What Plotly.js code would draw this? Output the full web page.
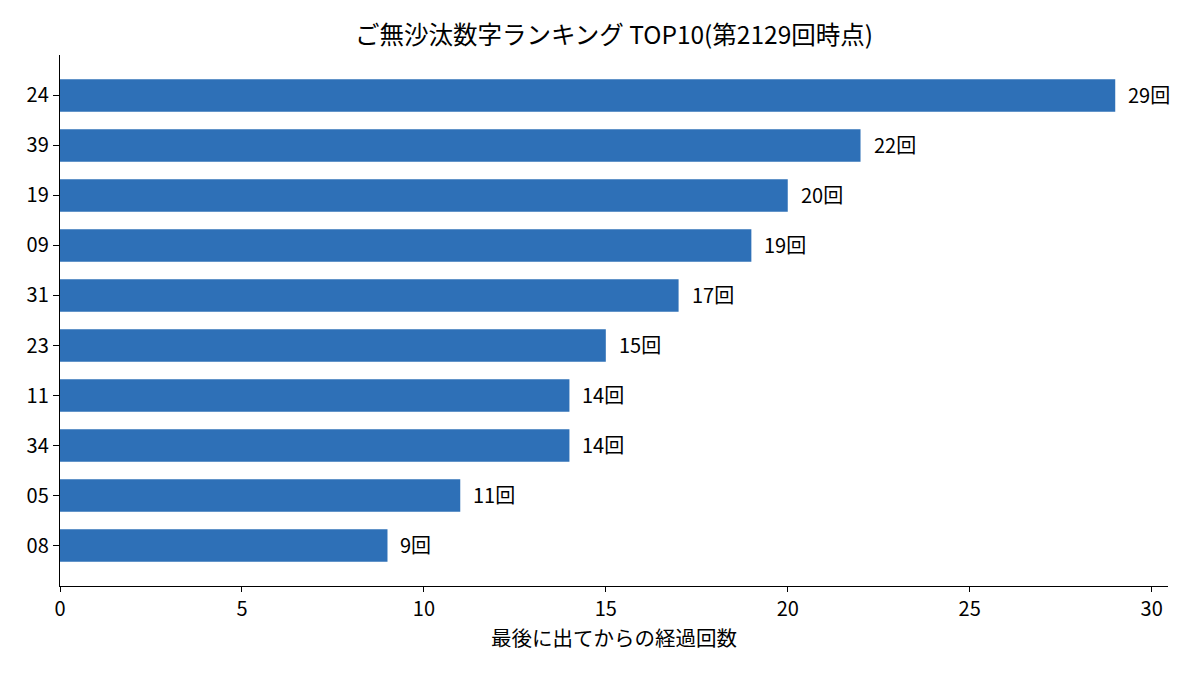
<!DOCTYPE html>
<html>
<head>
<meta charset="utf-8">
<script src="https://cdn.plot.ly/plotly-3.0.1.min.js"></script>
<style>
  html, body { margin: 0; padding: 0; background: #fff; }
  #plot { width: 1200px; height: 675px; }
</style>
</head>
<body>
<div id="plot"></div>
<script>
// numbers, listed bottom to top as drawn
var numbers = ['08', '05', '34', '11', '23', '31', '09', '19', '39', '24'];
var gaps = [9, 11, 14, 14, 15, 17, 19, 20, 22, 29];

var font = '"Noto Sans CJK JP", "Noto Sans", sans-serif';

var trace = {
  type: 'bar',
  orientation: 'h',
  x: gaps,
  y: numbers,
  width: 0.65,
  marker: { color: '#2e70b7' },
  hoverinfo: 'x+y'
};

// value labels to the right of each bar (y given as category index,
// strings like '08' would be read as numbers)
var labels = numbers.map(function (n, i) {
  return {
    x: gaps[i], y: i,
    xref: 'x', yref: 'y',
    text: gaps[i] + '回',
    showarrow: false,
    xanchor: 'left',
    xshift: 11,
    yshift: 1,
    font: { family: font, size: 20, color: '#000' }
  };
});

var layout = {
  width: 1200,
  height: 675,
  margin: { l: 60, r: 32, t: 55, b: 89 },
  paper_bgcolor: '#fff',
  plot_bgcolor: '#fff',
  font: { family: font, size: 20, color: '#000' },
  showlegend: false,
  title: {
    text: 'ご無沙汰数字ランキング TOP10(第2129回時点)',
    font: { family: font, size: 24.5, color: '#000' },
    x: 0.5, xref: 'paper',
    y: 0.948, yref: 'container', yanchor: 'middle'
  },
  xaxis: {
    range: [0, 30.45],
    dtick: 5,
    showgrid: false,
    zeroline: false,
    showline: true,
    linecolor: '#000',
    linewidth: 1.2,
    ticks: 'outside',
    ticklen: 5,
    tickcolor: '#000',
    tickfont: { family: font, size: 20 },
    title: { text: '最後に出てからの経過回数', font: { family: font, size: 20.5 }, standoff: 8 }
  },
  yaxis: {
    type: 'category',
    categoryorder: 'array',
    categoryarray: numbers,
    range: [-0.8075, 9.8075],
    showgrid: false,
    zeroline: false,
    showline: true,
    linecolor: '#000',
    linewidth: 1.2,
    ticks: 'outside',
    ticklen: 6,
    tickcolor: '#000',
    tickfont: { family: font, size: 20 }
  },
  annotations: labels
};

Plotly.newPlot('plot', [trace], layout, { displayModeBar: false, staticPlot: true });
</script>
</body>
</html>
